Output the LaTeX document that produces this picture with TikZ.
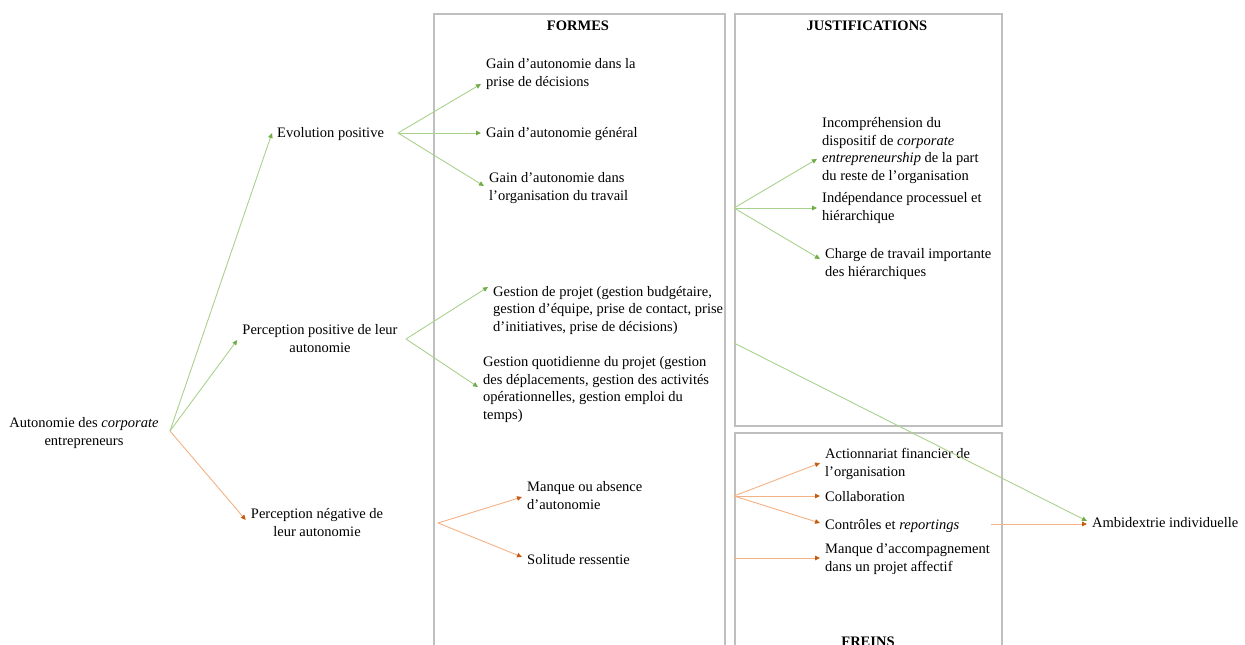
\documentclass[tikz,border=0pt]{standalone}
\usepackage{fontspec}
\setmainfont{Liberation Serif}
\usetikzlibrary{arrows.meta, calc}
\definecolor{cgreen}{HTML}{A9D18E}
\definecolor{cgreentip}{HTML}{70AD47}
\definecolor{corange}{HTML}{F4B183}
\definecolor{corangetip}{HTML}{C55A11}
\definecolor{cframe}{HTML}{BFBFBF}
\tikzset{
  every picture/.style={font=\fontsize{14.5}{17.4}\selectfont},
  frame/.style={draw=cframe, line width=1.5pt, anchor=north west, inner sep=0pt},
  title/.style={font=\fontsize{14.5}{17.4}\selectfont\bfseries, anchor=base},
  txt/.style={align=left, anchor=base west, inner xsep=5pt, inner ysep=2pt},
  ctxt/.style={align=center, anchor=base, inner xsep=5pt, inner ysep=2pt},
  garrow/.style={-{Triangle[length=5pt, width=4.5pt, color=cgreentip]}, draw=cgreen, line width=0.9pt},
  oarrow/.style={-{Triangle[length=5pt, width=4.5pt, color=corangetip]}, draw=corange, line width=0.9pt},
}

\begin{document}
\begin{tikzpicture}[x=1pt, y=-1pt]
  \useasboundingbox (0,0) rectangle (1245,645);
  \clip (0,0) rectangle (1245,645);
  % frames
  \node[frame, minimum width=291pt, minimum height=667pt] (formes) at (433,13) {};
  \node[frame, minimum width=267pt, minimum height=412pt] (just) at (734,13) {};
  \node[frame, minimum width=267pt, minimum height=248pt] (freins) at (734,432) {};
  \node[title] (tformes) at (578,30) {FORMES};
  \node[title] (tjust) at (867,30) {JUSTIFICATIONS};
  \node[title] (tfreins) at (868,646) {FREINS};
  % left column (base = last line)
  \node[ctxt] (auto) at (84,445) {Autonomie des \textit{corporate}\\entrepreneurs};
  \node[txt] (evo) at (272,137) {Evolution positive};
  \node[ctxt] (ppos) at (320,352) {Perception positive de leur\\autonomie};
  \node[ctxt] (pneg) at (317,536) {Perception négative de\\leur autonomie};
  % formes
  \node[txt] (g1) at (481,86) {Gain d’autonomie dans la\\prise de décisions};
  \node[txt] (g2) at (481,137) {Gain d’autonomie général};
  \node[txt] (g3) at (484,200) {Gain d’autonomie dans\\l’organisation du travail};
  \node[txt] (gp) at (488,331) {Gestion de projet (gestion budgétaire,\\gestion d’équipe, prise de contact, prise\\d’initiatives, prise de décisions)};
  \node[txt] (gq) at (478,419) {Gestion quotidienne du projet (gestion\\des déplacements, gestion des activités\\opérationnelles, gestion emploi du\\temps)};
  \node[txt] (ma) at (522,509) {Manque ou absence\\d’autonomie};
  \node[txt] (so) at (522,564) {Solitude ressentie};
  % justifications
  \node[txt] (inc) at (817,180) {Incompréhension du\\dispositif de \textit{corporate}\\\textit{entrepreneurship} de la part\\du reste de l’organisation};
  \node[txt] (ind) at (817,220) {Indépendance processuel et\\hiérarchique};
  \node[txt] (cha) at (820,276) {Charge de travail importante\\des hiérarchiques};
  % freins
  \node[txt] (act) at (820,476) {Actionnariat financier de\\l’organisation};
  \node[txt] (col) at (820,501) {Collaboration};
  \node[txt] (con) at (820,529) {Contrôles et \textit{reportings}};
  \node[txt] (man) at (820,571) {Manque d’accompagnement\\dans un projet affectif};
  \node[txt] (amb) at (1087,527) {Ambidextrie individuelle};
  % fan origins
  \coordinate (oA) at (170,431);
  \coordinate (oE) at (398,133);
  \coordinate (oP) at (406,339);
  \coordinate (oN) at (438,523);
  \coordinate (oJ) at (734,208);
  \coordinate (oF) at (734,496);
  \coordinate (oM) at (734,558);
  \coordinate (oC) at (991,524);
  \coordinate (oG) at (734,343);
  % arrows
  \foreach \t/\y in {evo/133, ppos/340} \draw[garrow] (oA) -- (\t.west |- 0,\y);
  \draw[oarrow] (oA) -- (pneg.west |- 0,520);
  \foreach \t/\y in {g1/84, g2/133, g3/186} \draw[garrow] (oE) -- (\t.west |- 0,\y);
  \foreach \t/\y in {gp/287, gq/387} \draw[garrow] (oP) -- (\t.west |- 0,\y);
  \foreach \t/\y in {ma/497, so/557} \draw[oarrow] (oN) -- (\t.west |- 0,\y);
  \foreach \t/\y in {inc/159, ind/208, cha/259} \draw[garrow] (oJ) -- (\t.west |- 0,\y);
  \foreach \t/\y in {act/463, col/496, con/523} \draw[oarrow] (oF) -- (\t.west |- 0,\y);
  \draw[oarrow] (oM) -- (man.west |- 0,558);
  \draw[oarrow] (oC) -- (amb.west |- 0,524);
  \draw[garrow] (oG) -- (amb.west |- 0,521);
\end{tikzpicture}
\end{document}
